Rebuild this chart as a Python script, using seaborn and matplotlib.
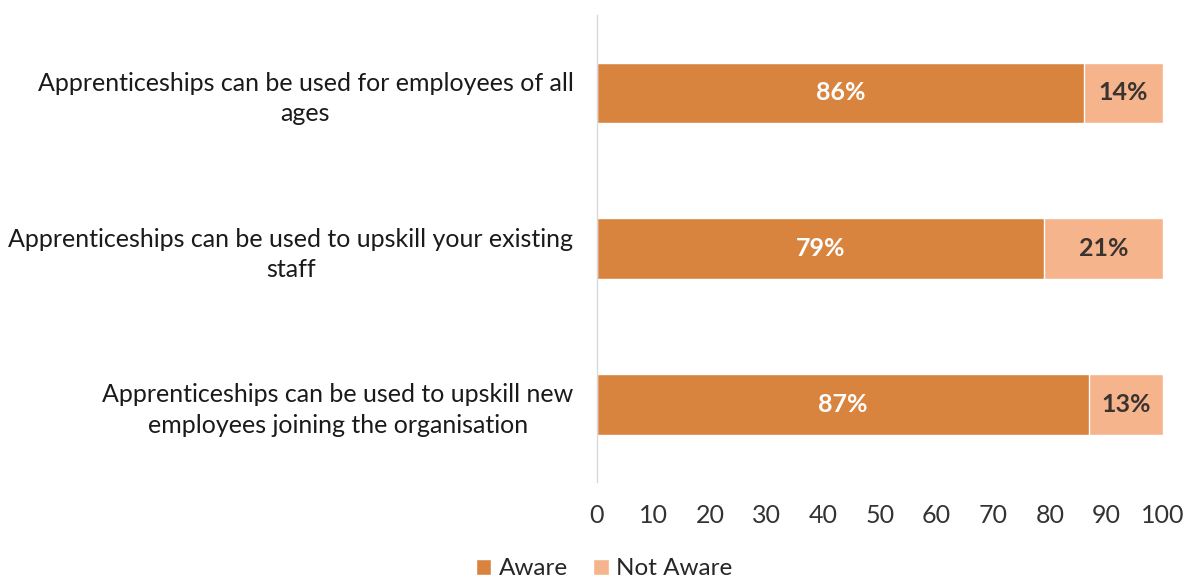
import matplotlib
matplotlib.use("Agg")
import matplotlib.pyplot as plt
import seaborn as sns
import pandas as pd
from matplotlib.patches import Patch

categories = [
    "Apprenticeships can be used for employees of all\nages",
    "Apprenticeships can be used to upskill your existing\nstaff",
    "Apprenticeships can be used to upskill new\nemployees joining the organisation",
]
aware = [86, 79, 87]
not_aware = [14, 21, 13]
series_names = ["Aware", "Not Aware"]
x_ticks = [0, 10, 20, 30, 40, 50, 60, 70, 80, 90, 100]

dark = "#D8843F"
light = "#F6B48C"

sns.set_theme(style="white")
plt.rcParams["font.family"] = ["Lato", "DejaVu Sans"]

df = pd.DataFrame({"category": categories, "aware": aware, "not_aware": not_aware})
df["total"] = df["aware"] + df["not_aware"]

fig = plt.figure(figsize=(11.94, 5.78), dpi=100)
ax = fig.add_axes([0.5, 0.166, 0.474, 0.808])

# Stacked bars: full total in the light colour, Aware share drawn over it
sns.barplot(data=df, y="category", x="total", color=light, orient="h",
            width=0.39, ax=ax, saturation=1)
sns.barplot(data=df, y="category", x="aware", color=dark, orient="h",
            width=0.39, ax=ax, saturation=1)

for i, (a, n) in enumerate(zip(aware, not_aware)):
    ax.text(a / 2, i, f"{a}%", ha="center", va="center", color="white",
            fontsize=18, fontweight="bold")
    ax.text(a + n / 2, i, f"{n}%", ha="center", va="center", color="#3a3430",
            fontsize=18, fontweight="bold")

ax.set_xlim(0, 100)
ax.set_ylim(2.5, -0.5)
ax.set_xticks(x_ticks)
ax.set_xticklabels([str(t) for t in x_ticks], fontsize=18, color="#333333")
ax.set_xlabel("")
ax.set_ylabel("")
for lbl in ax.get_yticklabels():
    lbl.set_multialignment("center")
    lbl.set_linespacing(1.4)
ax.tick_params(axis="y", labelsize=18, labelcolor="#1a1a1a", length=0, pad=17)
ax.tick_params(axis="x", length=0, pad=16)

for s in ["top", "right", "bottom"]:
    ax.spines[s].set_visible(False)
ax.spines["left"].set_color("#d9d9d9")
ax.spines["left"].set_linewidth(1)

handles = [Patch(facecolor=dark, label=series_names[0]),
           Patch(facecolor=light, label=series_names[1])]
fig.legend(handles=handles, loc="lower center", bbox_to_anchor=(0.506, -0.04),
           ncol=2, frameon=False, fontsize=17.5, handlelength=0.65,
           handleheight=0.65, handletextpad=0.3, columnspacing=1.05)

fig.savefig("out.png", dpi=100)
